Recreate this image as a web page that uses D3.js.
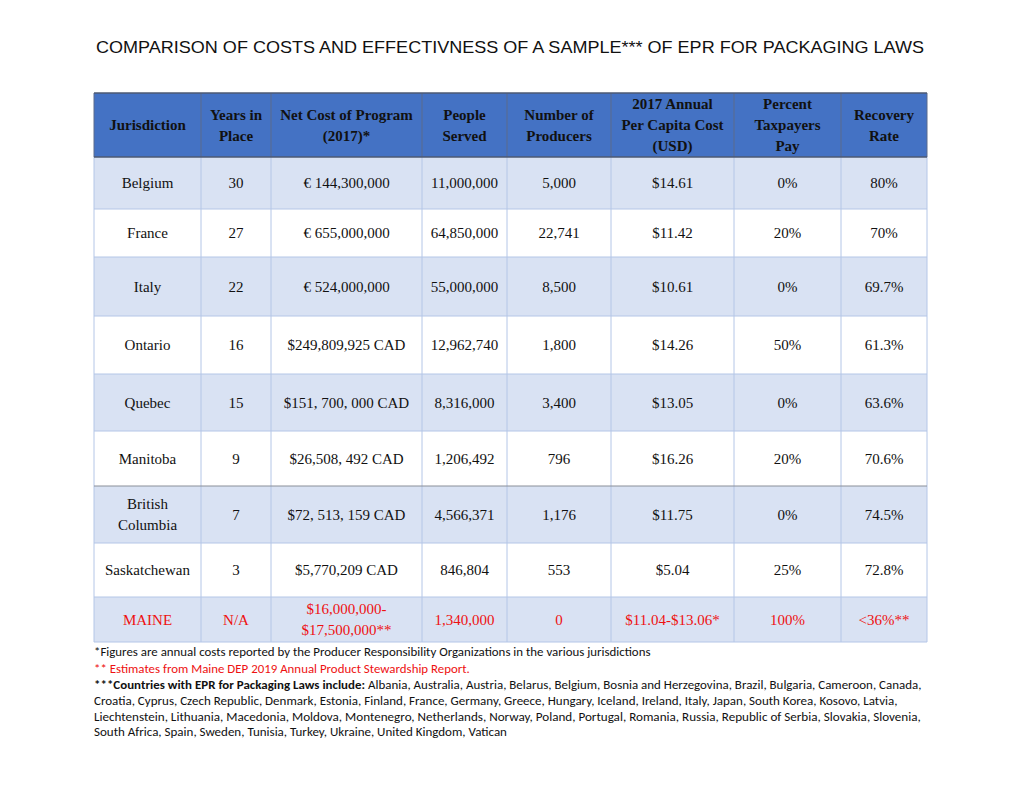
<!DOCTYPE html>
<html><head><meta charset="utf-8">
<script src="https://cdn.jsdelivr.net/npm/d3@7"></script>
<style>body{margin:0;background:#fff}svg{display:block}</style>
</head><body>
<svg id="c" width="1020" height="788"></svg>
<script>
// ---- data ----
const headers = [
  ["Jurisdiction"],
  ["Years in","Place"],
  ["Net Cost of Program","(2017)*"],
  ["People","Served"],
  ["Number of","Producers"],
  ["2017 Annual","Per Capita Cost","(USD)"],
  ["Percent","Taxpayers","Pay"],
  ["Recovery","Rate"]
];
const jurisdictions = ["Belgium","France","Italy","Ontario","Quebec","Manitoba","British\nColumbia","Saskatchewan","MAINE"];
const yearsInPlace = ["30","27","22","16","15","9","7","3","N/A"];
const netCost = ["€ 144,300,000","€ 655,000,000","€ 524,000,000","$249,809,925 CAD","$151, 700, 000 CAD","$26,508, 492 CAD","$72, 513, 159 CAD","$5,770,209 CAD","$16,000,000-\n$17,500,000**"];
const peopleServed = ["11,000,000","64,850,000","55,000,000","12,962,740","8,316,000","1,206,492","4,566,371","846,804","1,340,000"];
const producers = ["5,000","22,741","8,500","1,800","3,400","796","1,176","553","0"];
const perCapita = ["$14.61","$11.42","$10.61","$14.26","$13.05","$16.26","$11.75","$5.04","$11.04-$13.06*"];
const taxpayersPay = ["0%","20%","0%","50%","0%","20%","0%","25%","100%"];
const recoveryRate = ["80%","70%","69.7%","61.3%","63.6%","70.6%","74.5%","72.8%","<36%**"];
const highlightRow = "MAINE";
const title = "COMPARISON OF COSTS AND EFFECTIVNESS OF A SAMPLE*** OF EPR FOR PACKAGING LAWS";
const footnotes = [
  [{t:"*Figures are annual costs reported by the Producer Responsibility Organizations in the various jurisdictions"}],
  [{t:"** Estimates from Maine DEP 2019 Annual Product Stewardship Report.", red:true}],
  [{t:"***Countries with EPR for Packaging Laws include: ", bold:true},{t:"Albania, Australia, Austria, Belarus, Belgium, Bosnia and Herzegovina, Brazil, Bulgaria, Cameroon, Canada,"}],
  [{t:"Croatia, Cyprus, Czech Republic, Denmark, Estonia, Finland, France, Germany, Greece, Hungary, Iceland, Ireland, Italy, Japan, South Korea, Kosovo, Latvia,"}],
  [{t:"Liechtenstein, Lithuania, Macedonia, Moldova, Montenegro, Netherlands, Norway, Poland, Portugal, Romania, Russia, Republic of Serbia, Slovakia, Slovenia,"}],
  [{t:"South Africa, Spain, Sweden, Tunisia, Turkey, Ukraine, United Kingdom, Vatican"}]
];

// ---- layout ----
const colEdges = [94,201,271,422,507,611,734,841,927];
const rowEdges = [93,157,209,257,316,374,431,486,543,597,642];
const footTargets = [651,470,922,898,922,507];
const columns = [jurisdictions,yearsInPlace,netCost,peopleServed,producers,perCapita,taxpayersPay,recoveryRate];

const svg = d3.select("#c");
const serif = "'Liberation Serif','Times New Roman',serif";

// title
svg.append("text").attr("x",96).attr("y",53)
  .attr("font-family","'Liberation Sans',Arial,sans-serif").attr("font-size",17).attr("fill","#111")
  .attr("textLength",828).attr("lengthAdjust","spacingAndGlyphs").text(title);

const nRows = jurisdictions.length;
const rowIdx = d3.range(nRows);
const ys = d3.scaleOrdinal().domain(d3.range(nRows+1)).range(rowEdges.slice(0,nRows+1));

// body backgrounds
svg.selectAll("rect.row").data(rowIdx).join("rect").attr("class","row")
  .attr("x",colEdges[0]).attr("width",colEdges[8]-colEdges[0])
  .attr("y",i=>ys(i+1)).attr("height",i=>rowEdges[i+2]-rowEdges[i+1])
  .attr("fill",i=>i%2===0?"#D9E2F3":"#ffffff");

// header
svg.append("rect").attr("x",colEdges[0]).attr("y",rowEdges[0]).attr("width",colEdges[8]-colEdges[0])
  .attr("height",rowEdges[1]-rowEdges[0]).attr("fill","#4472C4");

// grid lines
const g = svg.append("g");
colEdges.forEach(x=>{
  g.append("line").attr("x1",x).attr("x2",x).attr("y1",rowEdges[1]).attr("y2",rowEdges[rowEdges.length-1])
   .attr("stroke","#B4C6E7").attr("stroke-width",1);
});
rowEdges.slice(2).forEach(y=>{
  g.append("line").attr("x1",colEdges[0]).attr("x2",colEdges[8]).attr("y1",y).attr("y2",y)
   .attr("stroke", y===486 ? "#8a8f99" : "#B4C6E7").attr("stroke-width",1);
});
colEdges.forEach(x=>{
  g.append("line").attr("x1",x).attr("x2",x).attr("y1",rowEdges[0]).attr("y2",rowEdges[1])
   .attr("stroke","#5a6b8c").attr("stroke-width",1);
});
[rowEdges[0],rowEdges[1]].forEach(y=>{
  g.append("line").attr("x1",colEdges[0]).attr("x2",colEdges[8]).attr("y1",y).attr("y2",y)
   .attr("stroke","#4d5a73").attr("stroke-width",1.5);
});

// header text
const lh = 21;
headers.forEach((lines,c)=>{
  const cx = (colEdges[c]+colEdges[c+1])/2;
  const cy = (rowEdges[0]+rowEdges[1])/2;
  const t = svg.append("text").attr("text-anchor","middle").attr("font-family",serif)
    .attr("font-size",15).attr("font-weight","bold").attr("fill","#111");
  lines.forEach((l,k)=>{
    t.append("tspan").attr("x",cx).attr("y",cy+(k-(lines.length-1)/2)*lh+5).text(l);
  });
});

// body text
columns.forEach((col,c)=>{
  const cx = (colEdges[c]+colEdges[c+1])/2;
  col.forEach((v,r)=>{
    const cy = (rowEdges[r+1]+rowEdges[r+2])/2;
    const lines = v.split("\n");
    const red = jurisdictions[r]===highlightRow;
    const t = svg.append("text").attr("text-anchor","middle").attr("font-family",serif)
      .attr("font-size",15).attr("fill",red?"#EE1111":"#111");
    lines.forEach((l,k)=>{
      t.append("tspan").attr("x",cx).attr("y",cy+(k-(lines.length-1)/2)*lh+5).text(l);
    });
  });
});

// footnotes
const fy = [656,673,689,705,721,736];
footnotes.forEach((parts,i)=>{
  const t = svg.append("text").attr("x",94).attr("y",fy[i])
    .attr("font-family","Carlito,Calibri,Lato,'Open Sans',sans-serif").attr("font-size",12.5);
  parts.forEach(p=>{
    t.append("tspan").attr("font-weight",p.bold?"bold":"normal")
     .attr("fill",p.red?"#EE1111":"#111").text(p.t);
  });
  const w = t.node().getComputedTextLength();
  const s = (footTargets[i]-94)/w;
  t.attr("transform",`translate(94,0) scale(${s},1) translate(-94,0)`);
});
</script>
</body></html>
